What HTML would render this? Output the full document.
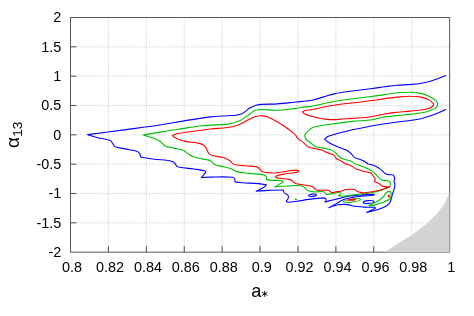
<!DOCTYPE html>
<html><head><meta charset="utf-8"><title>plot</title>
<style>html,body{margin:0;padding:0;background:#fff}svg{display:block;will-change:transform}text{font-family:"Liberation Sans",sans-serif;fill:#000}</style></head><body>
<svg width="474" height="316" viewBox="0 0 474 316">
<rect width="474" height="316" fill="#fff"/>
<g stroke="#c8c8c8" stroke-width="1" stroke-dasharray="1 1.45" fill="none">
<line x1="108.41" y1="17.5" x2="108.41" y2="252.17"/>
<line x1="146.33" y1="17.5" x2="146.33" y2="252.17"/>
<line x1="184.24" y1="17.5" x2="184.24" y2="252.17"/>
<line x1="222.16" y1="17.5" x2="222.16" y2="252.17"/>
<line x1="260.07" y1="17.5" x2="260.07" y2="252.17"/>
<line x1="297.99" y1="17.5" x2="297.99" y2="252.17"/>
<line x1="335.90" y1="17.5" x2="335.90" y2="252.17"/>
<line x1="373.82" y1="17.5" x2="373.82" y2="252.17"/>
<line x1="411.74" y1="17.5" x2="411.74" y2="252.17"/>
<line x1="70.5" y1="17.50" x2="449.65" y2="17.50"/>
<line x1="70.5" y1="46.83" x2="449.65" y2="46.83"/>
<line x1="70.5" y1="76.17" x2="449.65" y2="76.17"/>
<line x1="70.5" y1="105.50" x2="449.65" y2="105.50"/>
<line x1="70.5" y1="134.83" x2="449.65" y2="134.83"/>
<line x1="70.5" y1="164.17" x2="449.65" y2="164.17"/>
<line x1="70.5" y1="193.50" x2="449.65" y2="193.50"/>
<line x1="70.5" y1="222.84" x2="449.65" y2="222.84"/>
</g>
<rect x="70.5" y="17.5" width="379.15" height="234.67" fill="none" stroke="#585858" stroke-width="1"/>
<g stroke="#505050" stroke-width="1">
<line x1="108.41" y1="252.17" x2="108.41" y2="246.17"/>
<line x1="146.33" y1="252.17" x2="146.33" y2="246.17"/>
<line x1="184.24" y1="252.17" x2="184.24" y2="246.17"/>
<line x1="222.16" y1="252.17" x2="222.16" y2="246.17"/>
<line x1="260.07" y1="252.17" x2="260.07" y2="246.17"/>
<line x1="297.99" y1="252.17" x2="297.99" y2="246.17"/>
<line x1="335.90" y1="252.17" x2="335.90" y2="246.17"/>
<line x1="373.82" y1="252.17" x2="373.82" y2="246.17"/>
<line x1="411.74" y1="252.17" x2="411.74" y2="246.17"/>
<line x1="70.5" y1="46.83" x2="76.5" y2="46.83"/>
<line x1="70.5" y1="76.17" x2="76.5" y2="76.17"/>
<line x1="70.5" y1="105.50" x2="76.5" y2="105.50"/>
<line x1="70.5" y1="134.83" x2="76.5" y2="134.83"/>
<line x1="70.5" y1="164.17" x2="76.5" y2="164.17"/>
<line x1="70.5" y1="193.50" x2="76.5" y2="193.50"/>
<line x1="70.5" y1="222.84" x2="76.5" y2="222.84"/>
</g>
<polygon points="384.6,252.2 398.5,243.3 411.2,235.4 426.2,224.3 437.8,212.7 444.7,203.5 448.2,195.4 449.5,191.9 449.5,252.2" fill="#d3d3d3"/>
<path d="M445.8,75.5C445.8,75.5 437.9,78.6 434.0,79.9C430.7,81.0 427.3,82.0 423.9,82.7C420.0,83.5 416.0,84.0 412.1,84.4C407.1,84.9 401.9,84.9 396.9,85.3C393.0,85.6 388.9,86.2 385.0,86.7C380.8,87.2 376.6,88.0 372.4,88.5C365.7,89.4 358.9,90.1 352.2,91.0C346.6,91.8 340.8,92.5 335.3,93.6C331.3,94.4 327.4,95.8 323.5,96.9C319.9,98.0 316.2,99.4 312.5,100.3C310.4,100.8 308.1,100.8 305.9,101.0C302.0,101.4 298.0,101.8 294.1,102.2C288.5,102.8 282.8,103.5 277.2,103.9C272.2,104.2 267.0,104.1 262.0,104.4C260.0,104.5 258.0,104.8 256.1,105.3C254.1,105.9 252.0,106.7 250.2,107.8C247.3,109.5 244.8,112.1 241.8,113.7C240.0,114.6 238.0,114.9 236.0,115.2C233.2,115.6 230.3,115.5 227.5,115.7C221.9,116.1 216.2,116.3 210.6,116.9C202.2,117.9 193.6,119.3 185.3,120.6C176.9,121.9 168.4,123.7 160.0,125.0C147.6,126.9 134.7,128.4 122.2,130.1C110.8,131.6 87.6,134.6 87.6,134.6C87.6,134.6 93.8,136.7 96.9,137.5C101.3,138.6 106.0,138.9 110.2,140.5C111.5,141.0 111.9,142.6 112.8,143.7C113.6,144.7 114.1,146.2 115.3,146.7C118.4,148.0 122.0,148.2 125.3,148.9C128.9,149.7 132.8,150.0 136.3,151.1C137.6,151.5 138.9,152.5 139.7,153.6C140.3,154.4 140.5,156.7 140.5,156.7C140.5,156.7 142.7,157.6 143.9,157.8C148.3,158.5 152.9,159.0 157.4,159.5C160.5,159.8 163.7,159.8 166.8,160.3C169.0,160.6 171.4,161.0 173.5,161.9C174.3,162.2 174.6,163.2 175.1,163.8C175.7,164.6 176.1,165.6 176.9,166.2C177.6,166.8 178.5,167.2 179.4,167.3C184.1,168.1 189.1,168.4 193.8,169.0C197.4,169.5 201.2,169.8 204.7,170.7C205.3,170.9 205.9,172.1 205.9,172.1C205.9,172.1 201.4,177.5 201.4,177.5C201.4,177.5 207.6,177.1 210.6,177.1C217.9,177.0 225.4,176.6 232.6,177.2C233.5,177.3 234.3,178.3 234.7,179.1C235.1,179.9 235.1,181.9 235.1,181.9C235.1,181.9 239.6,182.6 241.9,182.8C247.5,183.2 253.2,183.1 258.8,183.6C261.3,183.8 266.4,184.8 266.4,184.8C266.4,184.8 264.3,187.0 263.0,187.8C260.9,189.1 256.2,191.2 256.2,191.2C256.2,191.2 263.6,190.6 267.2,190.4C271.9,190.2 276.8,190.0 281.5,190.0C282.1,190.0 283.4,190.4 283.4,190.4C283.4,190.4 283.9,192.3 284.5,193.0C285.4,194.0 287.2,194.3 288.0,195.4C288.5,196.2 288.6,197.3 288.3,198.2C288.0,199.3 286.3,200.9 286.3,200.9C286.3,200.9 287.3,202.2 288.0,202.2C291.0,202.3 294.1,201.7 297.1,201.3C300.9,200.8 304.7,199.9 308.5,199.4C313.4,198.8 318.4,198.1 323.3,197.9C324.1,197.9 325.6,198.6 325.6,198.6C325.6,198.6 326.2,199.9 326.1,200.5C326.0,201.1 325.0,202.0 325.0,202.0C325.0,202.0 327.7,201.2 329.0,200.9C330.7,200.5 332.6,200.0 334.3,199.6C337.2,198.9 340.1,198.2 343.0,197.5C345.3,197.0 347.7,196.3 350.0,196.0C353.9,195.5 358.0,195.2 362.0,194.9C365.6,194.6 369.4,194.3 373.0,194.2C373.5,194.2 374.5,194.7 374.5,194.7C374.5,194.7 373.5,195.1 373.0,195.2C369.4,195.6 365.6,195.8 362.0,196.2C358.7,196.5 355.3,196.8 352.0,197.4C349.0,198.0 345.9,198.6 343.1,199.8C340.4,200.9 338.0,202.9 335.5,204.3C333.3,205.5 328.8,207.8 328.8,207.8C328.8,207.8 335.1,205.3 338.3,204.8C341.4,204.3 344.7,204.3 347.8,204.6C350.1,204.8 352.2,206.0 354.5,206.3C357.7,206.8 361.0,206.9 364.2,207.1C367.8,207.3 375.0,207.3 375.0,207.3C375.0,207.3 375.4,208.2 375.4,208.2C375.4,208.2 366.6,212.5 366.6,212.5C366.6,212.5 372.5,211.2 375.4,210.3C378.4,209.4 381.5,208.5 384.3,207.1C386.2,206.2 388.0,204.9 389.4,203.3C390.4,202.1 390.8,200.4 391.3,198.9C391.8,197.3 392.0,195.5 392.5,193.8C392.9,192.5 393.5,191.3 393.8,190.0C394.3,188.2 394.9,186.3 395.0,184.4C395.0,183.4 394.2,182.6 394.1,181.6C394.0,180.1 394.7,178.6 394.4,177.2C394.2,176.2 392.8,174.7 392.8,174.7C392.8,174.7 390.4,174.8 389.3,174.7C388.0,174.5 386.6,174.4 385.5,173.8C384.5,173.3 383.9,172.2 383.0,171.5C381.8,170.4 380.5,169.3 379.2,168.4C377.6,167.3 375.9,166.1 374.1,165.4C372.1,164.6 369.8,164.5 367.8,163.7C366.4,163.1 365.3,161.8 364.0,161.1C362.4,160.3 360.6,159.7 358.9,159.1C357.5,158.6 355.8,158.5 354.5,157.6C353.2,156.7 352.5,154.9 351.3,153.8C349.8,152.4 348.1,151.1 346.3,150.0C345.6,149.6 344.7,149.5 343.9,149.2C341.1,148.1 338.2,147.0 335.4,145.8C333.1,144.8 330.8,143.8 328.7,142.5C327.2,141.6 324.5,139.1 324.5,139.1C324.5,139.1 326.6,137.2 327.8,136.6C330.8,135.3 334.0,134.4 337.1,133.5C341.5,132.3 346.1,131.2 350.6,130.2C356.2,129.0 361.9,127.9 367.5,126.8C371.6,126.0 375.9,125.2 380.0,124.5C385.2,123.7 390.6,122.9 395.8,122.2C401.0,121.5 406.4,121.0 411.6,120.3C414.7,119.9 418.0,119.4 421.1,118.7C424.3,117.9 427.5,116.9 430.6,115.8C433.2,114.9 435.9,113.8 438.5,112.7C440.9,111.7 445.7,109.5 445.7,109.5" fill="none" stroke="#0000ff" stroke-width="1.1" stroke-linejoin="round" stroke-linecap="round"/>
<ellipse cx="312.5" cy="195.25" rx="3.9" ry="1.15" fill="none" stroke="#0000ff" stroke-width="1.1" transform="rotate(-8 312.5 195.25)"/>
<ellipse cx="368.6" cy="202.0" rx="5.4" ry="1.4" fill="none" stroke="#0000ff" stroke-width="1.1" transform="rotate(-4 368.6 202)"/>
<path d="M143.4,135.0C143.4,135.0 154.5,133.0 160.0,132.1C165.6,131.2 171.3,130.3 176.9,129.5C185.2,128.3 193.8,126.7 202.2,125.8C210.5,124.9 219.2,124.9 227.5,124.1C229.8,123.9 232.1,123.4 234.3,122.8C236.2,122.3 238.1,121.4 240.0,120.6C240.6,120.3 241.2,120.0 241.8,119.6C244.6,117.7 247.4,115.6 250.2,113.7C251.9,112.6 253.4,111.1 255.3,110.3C256.8,109.7 258.6,109.5 260.3,109.5C265.9,109.5 271.6,110.4 277.2,110.3C282.8,110.2 288.5,109.3 294.1,108.6C298.0,108.1 302.0,107.4 305.9,106.9C307.9,106.6 310.0,106.6 312.0,106.2C319.7,104.7 327.6,102.5 335.3,101.2C343.6,99.8 352.2,98.9 360.6,97.8C366.2,97.1 371.9,96.3 377.5,95.6C380.0,95.3 382.5,95.0 385.0,94.6C388.9,94.0 392.9,93.2 396.9,92.8C401.3,92.4 405.9,92.2 410.4,92.3C413.8,92.4 417.2,92.7 420.5,93.4C423.4,94.0 426.2,95.0 428.9,96.2C431.3,97.3 433.7,98.7 435.7,100.4C436.7,101.3 437.5,102.5 437.7,103.8C437.8,105.0 437.4,106.4 436.5,107.2C434.9,108.8 432.7,109.8 430.6,110.6C427.9,111.6 425.0,112.3 422.2,112.8C416.7,113.7 410.9,114.2 405.3,114.8C399.7,115.4 394.0,115.9 388.4,116.5C386.5,116.7 384.5,116.8 382.6,117.2C379.2,117.9 375.8,119.2 372.4,119.7C365.8,120.6 358.8,120.7 352.2,121.4C343.8,122.3 335.2,123.5 326.9,124.8C322.4,125.5 317.7,125.9 313.4,127.3C311.5,127.9 309.9,129.4 308.4,130.7C307.0,131.9 304.7,134.9 304.7,134.9C304.7,134.9 305.1,137.9 305.9,139.1C306.9,140.6 308.7,141.4 310.1,142.5C311.8,143.8 313.3,145.5 315.2,146.4C317.3,147.3 319.7,147.4 321.9,147.9C324.7,148.5 327.7,148.7 330.4,149.6C332.2,150.2 333.9,151.4 335.4,152.6C337.3,154.1 338.6,156.3 340.5,157.7C341.8,158.6 343.5,159.0 345.0,159.5C346.7,160.0 348.5,160.1 350.1,160.8C351.9,161.5 353.4,162.9 355.1,163.7C358.0,165.0 361.1,165.8 364.0,167.1C366.6,168.2 369.2,169.4 371.6,170.9C373.4,172.1 375.0,173.8 376.6,175.3C377.9,176.5 379.0,178.0 380.4,179.1C381.2,179.7 382.1,180.2 383.0,180.4C384.8,180.8 386.9,180.3 388.7,181.0C389.7,181.4 390.3,182.5 390.6,183.5C390.8,184.4 390.3,185.3 390.0,186.1C389.9,186.5 389.7,186.9 389.4,187.1C387.4,188.1 385.3,188.8 383.2,189.5C380.1,190.5 376.9,191.6 373.7,192.3C370.6,193.0 367.3,193.4 364.2,193.8C361.0,194.2 357.7,194.4 354.5,194.8C350.7,195.2 346.9,196.0 343.1,196.2C341.5,196.3 338.3,195.8 338.3,195.8C338.3,195.8 341.0,193.9 341.0,193.9C341.0,193.9 340.6,192.9 340.2,192.6C339.8,192.3 339.2,192.1 338.7,192.2C336.4,192.6 334.1,193.5 331.8,193.9C329.9,194.2 326.1,194.4 326.1,194.4C326.1,194.4 325.4,193.1 324.8,192.6C324.1,192.0 323.2,191.4 322.3,191.3C320.0,191.2 317.6,192.1 315.3,192.0C313.0,191.9 310.6,191.5 308.4,190.7C307.2,190.3 306.2,189.2 305.2,188.4C304.3,187.7 303.7,186.6 302.7,186.3C300.7,185.6 298.4,185.6 296.3,185.5C294.2,185.4 292.1,185.8 290.0,185.9C287.5,186.0 284.9,186.0 282.4,186.2C279.9,186.4 274.8,187.0 274.8,187.0C274.8,187.0 283.2,181.9 283.2,181.9C283.2,181.9 282.2,180.7 281.5,180.6C277.9,180.1 274.2,180.6 270.6,180.3C269.2,180.2 266.4,179.4 266.4,179.4C266.4,179.4 266.8,177.6 266.4,176.9C265.9,176.0 264.9,175.1 263.8,174.9C259.9,174.0 255.8,174.0 251.9,173.6C250.3,173.4 248.5,173.4 246.9,173.2C243.6,172.8 240.0,172.5 236.8,171.6C234.6,171.0 232.6,169.4 230.5,168.6C228.4,167.8 226.2,167.2 224.1,166.7C221.4,166.0 218.3,166.1 215.7,165.0C213.5,164.0 212.0,161.6 209.8,160.6C207.5,159.5 204.7,159.5 202.2,158.9C199.4,158.3 196.5,157.8 193.8,156.9C192.0,156.3 190.3,155.3 188.7,154.3C186.9,153.2 185.5,151.3 183.6,150.5C180.4,149.2 176.8,148.9 173.5,148.1C170.7,147.4 167.7,147.2 165.1,145.9C163.1,144.9 161.9,142.5 160.0,141.2C158.2,140.0 156.0,139.2 154.0,138.4C150.6,137.1 143.4,135.0 143.4,135.0Z" fill="none" stroke="#00c000" stroke-width="1.1" stroke-linejoin="round" stroke-linecap="round"/>
<path d="M369.0,205.6C369.0,205.6 372.2,204.1 373.7,203.3C375.9,202.1 378.3,201.0 380.4,199.5C381.8,198.5 383.1,197.1 384.2,195.7C384.9,194.8 385.3,193.6 386.1,192.8C386.9,192.1 387.9,191.5 388.9,191.4C389.7,191.3 391.0,192.3 391.0,192.3C391.0,192.3 391.4,195.2 391.0,196.6C390.7,197.7 389.8,198.8 388.9,199.5C387.8,200.4 386.4,200.9 385.1,201.4C383.0,202.3 380.7,203.0 378.5,203.7C376.3,204.4 374.1,205.3 371.8,205.8C370.9,206.0 369.0,205.6 369.0,205.6Z" fill="none" stroke="#00c000" stroke-width="1.1" stroke-linejoin="round" stroke-linecap="round"/>
<ellipse cx="352" cy="200.6" rx="8.7" ry="1.4" fill="none" stroke="#00c000" stroke-width="1.1" transform="rotate(-8.5 352 200.6)"/>
<ellipse cx="295.8" cy="199.2" rx="1.1" ry="0.5" fill="#00c000" stroke="#00c000" stroke-width="0.6"/>
<path d="M172.6,135.5C172.6,135.5 175.4,134.1 176.9,133.8C182.4,132.7 188.2,132.0 193.8,131.2C199.3,130.4 205.0,129.6 210.6,129.0C216.2,128.4 221.9,128.2 227.5,127.5C230.3,127.1 233.3,126.6 236.0,125.7C238.5,124.9 241.0,123.7 243.4,122.5C246.3,121.1 249.0,119.2 251.9,117.9C253.5,117.2 255.2,116.5 256.9,116.2C258.8,115.8 260.9,115.7 262.8,115.9C264.8,116.1 266.9,116.6 268.8,117.4C271.7,118.6 274.5,120.2 277.2,121.8C280.0,123.5 282.9,125.4 285.6,127.2C287.3,128.4 289.1,129.6 290.7,130.9C292.5,132.3 294.3,133.8 295.8,135.5C296.5,136.3 296.7,137.5 297.4,138.2C298.9,139.6 300.8,140.7 302.5,141.9C303.1,142.3 303.7,142.8 304.2,143.3C305.6,144.5 306.7,146.3 308.4,147.0C311.0,148.2 314.1,148.3 316.9,148.9C318.6,149.3 320.3,149.5 321.9,150.1C323.7,150.7 325.3,151.9 327.0,152.6C329.2,153.5 331.8,153.8 333.8,155.1C335.0,155.8 335.2,157.7 336.3,158.5C338.0,159.8 340.3,160.4 342.2,161.5C343.2,162.1 343.9,163.2 345.0,163.7C346.6,164.4 348.5,164.5 350.1,165.2C352.3,166.2 354.2,168.0 356.4,169.0C358.8,170.1 361.5,170.8 364.0,171.5C366.2,172.1 368.7,172.1 370.9,173.0C371.6,173.3 371.8,174.2 372.3,174.8C373.0,175.7 373.8,176.6 374.4,177.6C374.8,178.2 375.2,178.9 375.2,179.6C375.2,180.3 374.4,181.4 374.4,181.4C374.4,181.4 375.9,182.1 376.6,182.5C377.6,183.0 378.7,183.4 379.7,184.0C380.5,184.5 381.0,185.5 381.9,185.9C382.8,186.4 384.0,186.5 385.0,186.6C386.5,186.8 389.5,186.9 389.5,186.9C389.5,186.9 386.5,188.0 385.0,188.5C383.7,188.9 382.5,189.5 381.2,189.8C378.7,190.5 376.2,191.1 373.7,191.5C370.6,192.0 367.4,192.5 364.2,192.8C363.2,192.9 362.1,192.8 361.1,192.6C359.9,192.4 358.5,192.1 357.4,191.6C356.4,191.1 355.7,189.8 354.6,189.5C353.1,189.0 351.5,189.3 350.0,189.3C348.3,189.4 346.6,189.5 345.0,189.8C343.5,190.1 342.1,191.0 340.6,191.3C338.9,191.7 337.2,191.6 335.5,191.9C334.9,192.0 334.3,192.6 333.7,192.6C332.7,192.6 331.5,192.4 330.6,192.0C329.7,191.6 329.3,190.4 328.4,190.2C326.2,189.8 323.8,190.4 321.6,190.3C319.7,190.2 317.7,190.3 315.9,189.7C315.1,189.4 314.8,188.3 314.1,187.8C313.3,187.2 312.5,186.6 311.5,186.3C308.7,185.6 305.6,185.3 302.7,184.8C300.3,184.4 297.8,184.2 295.5,183.4C294.3,183.0 293.6,181.7 292.5,181.0C291.4,180.3 290.3,179.7 289.1,179.4C285.8,178.7 282.3,178.8 279.0,178.2C277.8,178.0 275.6,176.9 275.6,176.9C275.6,176.9 276.6,175.7 277.3,175.5C280.0,174.7 283.0,174.3 285.8,173.8C289.4,173.2 293.1,173.1 296.7,172.3C297.6,172.1 299.0,171.0 299.0,171.0C299.0,171.0 297.0,170.1 296.0,170.1C292.5,170.2 289.0,170.9 285.6,171.4C284.0,171.6 282.3,172.0 280.7,172.2C278.4,172.5 276.1,172.9 273.8,173.0C272.2,173.1 270.5,172.8 268.9,172.7C267.4,172.6 265.9,172.6 264.5,172.3C263.4,172.1 262.2,171.6 261.3,171.0C260.6,170.5 260.2,169.6 259.6,169.0C258.8,168.2 258.1,167.1 257.0,166.9C253.1,166.1 249.0,166.2 245.1,165.8C242.1,165.5 239.0,165.3 236.0,164.8C234.9,164.6 233.7,164.2 232.8,163.6C231.5,162.7 230.5,161.2 229.2,160.3C227.6,159.2 225.9,158.2 224.1,157.7C220.3,156.6 216.1,156.6 212.3,155.5C211.0,155.2 209.7,154.5 208.9,153.5C207.6,151.9 207.1,149.7 206.0,148.0C205.2,146.8 204.3,145.4 203.0,144.7C201.2,143.7 199.1,143.4 197.1,143.0C193.2,142.3 189.1,142.2 185.3,141.4C183.0,140.9 180.8,140.0 178.6,139.2C176.9,138.5 175.1,137.8 173.5,136.8C173.1,136.5 172.6,135.5 172.6,135.5Z" fill="none" stroke="#ff0000" stroke-width="1.1" stroke-linejoin="round" stroke-linecap="round"/>
<path d="M302.5,112.0C302.5,112.0 304.7,110.6 305.9,110.3C307.2,109.9 308.7,110.1 310.0,109.9C318.4,108.4 326.9,106.3 335.3,105.0C343.6,103.7 352.3,103.0 360.6,102.0C366.2,101.3 371.9,100.6 377.5,99.8C380.0,99.5 382.5,98.9 385.0,98.6C388.9,98.1 393.0,97.5 396.9,97.1C401.3,96.7 405.9,96.1 410.4,96.2C414.3,96.2 418.4,96.6 422.2,97.4C424.8,98.0 427.5,99.0 429.8,100.4C431.3,101.3 433.7,104.2 433.7,104.2C433.7,104.2 432.5,106.6 431.5,107.2C429.8,108.3 427.6,108.8 425.6,109.2C420.6,110.1 415.4,110.6 410.4,111.1C404.8,111.7 399.1,111.9 393.5,112.6C389.3,113.1 385.1,114.0 380.9,114.7C376.4,115.5 371.9,116.6 367.4,117.2C362.4,117.8 357.2,118.0 352.2,118.4C347.7,118.7 343.2,119.2 338.7,119.4C334.8,119.6 330.8,119.7 326.9,119.4C324.1,119.2 321.2,118.6 318.4,118.0C315.6,117.4 312.7,116.8 310.0,116.0C308.3,115.5 306.6,114.8 305.0,114.0C304.1,113.5 302.5,112.0 302.5,112.0Z" fill="none" stroke="#ff0000" stroke-width="1.1" stroke-linejoin="round" stroke-linecap="round"/>
<ellipse cx="351.9" cy="199.75" rx="4" ry="0.8" fill="#ff0000" stroke="#ff0000" stroke-width="0.5" transform="rotate(-5 351.9 199.75)"/>
<ellipse cx="388.9" cy="196.1" rx="0.8" ry="1.3" fill="#ff0000" stroke="#ff0000" stroke-width="0.5"/>
<text x="61.3" y="22.35" font-size="14.4" text-anchor="end">2</text>
<text x="61.3" y="51.68" font-size="14.4" text-anchor="end">1.5</text>
<text x="61.3" y="81.02" font-size="14.4" text-anchor="end">1</text>
<text x="61.3" y="110.35" font-size="14.4" text-anchor="end">0.5</text>
<text x="61.3" y="139.68" font-size="14.4" text-anchor="end">0</text>
<text x="61.3" y="169.02" font-size="14.4" text-anchor="end">-0.5</text>
<text x="61.3" y="198.35" font-size="14.4" text-anchor="end">-1</text>
<text x="61.3" y="227.69" font-size="14.4" text-anchor="end">-1.5</text>
<text x="61.3" y="257.02" font-size="14.4" text-anchor="end">-2</text>
<text x="72.10" y="272.3" font-size="14.4" text-anchor="middle">0.8</text>
<text x="110.01" y="272.3" font-size="14.4" text-anchor="middle">0.82</text>
<text x="147.93" y="272.3" font-size="14.4" text-anchor="middle">0.84</text>
<text x="185.84" y="272.3" font-size="14.4" text-anchor="middle">0.86</text>
<text x="223.76" y="272.3" font-size="14.4" text-anchor="middle">0.88</text>
<text x="261.68" y="272.3" font-size="14.4" text-anchor="middle">0.9</text>
<text x="299.59" y="272.3" font-size="14.4" text-anchor="middle">0.92</text>
<text x="337.50" y="272.3" font-size="14.4" text-anchor="middle">0.94</text>
<text x="375.42" y="272.3" font-size="14.4" text-anchor="middle">0.96</text>
<text x="413.34" y="272.3" font-size="14.4" text-anchor="middle">0.98</text>
<text x="451.25" y="272.3" font-size="14.4" text-anchor="middle">1</text>
<text x="251.3" y="296.6" font-size="18.2">a</text>
<g stroke="#000" stroke-width="0.9" stroke-linecap="butt"><line x1="264.7" y1="290.8" x2="264.7" y2="296.8"/><line x1="262.0" y1="292.2" x2="267.4" y2="295.4"/><line x1="262.0" y1="295.4" x2="267.4" y2="292.2"/></g>
<g transform="translate(19,148.1) rotate(-90)"><text x="0" y="0" font-size="19">α</text><text x="11.3" y="3.4" font-size="13.6">13</text></g>
</svg></body></html>
